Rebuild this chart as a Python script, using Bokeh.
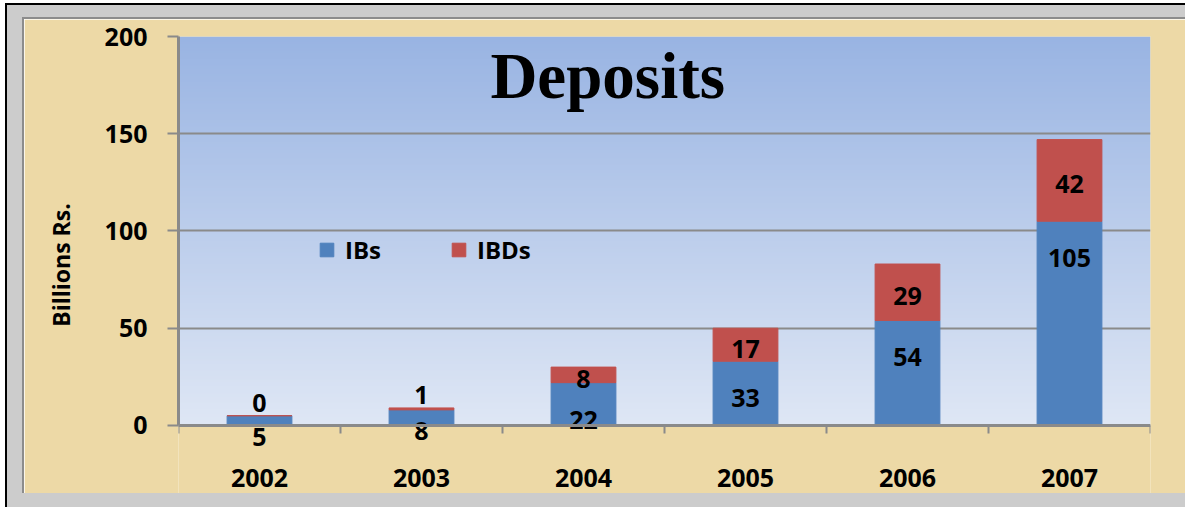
import numpy as np
from bokeh.plotting import figure
from bokeh.models import ColumnDataSource, FixedTicker, Range1d, Spacer
from bokeh.layouts import column, row
from bokeh.core.properties import value
from bokeh.embed import file_html
from bokeh.resources import INLINE

# ---- data ----
years = ["2002", "2003", "2004", "2005", "2006", "2007"]
ibs = [5, 8, 22, 33, 54, 105]
ibds = [0, 1, 8, 17, 29, 42]
series_names = ["IBs", "IBDs"]
y_ticks = [0, 50, 100, 150, 200]

BLUE = "#4F81BD"
RED = "#C0504D"
GRID = "#8a8a8a"
TAN = "#EDD9A6"
FONT = "Open Sans"

PX_PER_UNIT = 389 / 200.0
Y_MIN = -35  # frame extends below the axis so that labels under it are drawn

xs = [i + 0.5 for i in range(len(years))]
src = ColumnDataSource(dict(x=xs, IBs=ibs, IBDs=ibds))

p = figure(width=1161, height=474, output_backend="svg", toolbar_location=None,
           x_range=Range1d(0, len(years)), y_range=Range1d(Y_MIN, 200),
           min_border_left=154, min_border_right=35, min_border_top=17, min_border_bottom=0)
p.styles = {"outline": "2px solid #8c8c8c"}
p.border_fill_color = TAN
p.background_fill_color = TAN
p.outline_line_color = None

# gradient plot-area background (0..200)
N = 256
img = np.zeros((N, 1), dtype=np.uint32)
view = img.view(dtype=np.uint8).reshape((N, 1, 4))
bottom = np.array([223, 231, 245], dtype=float)
top = np.array([153, 180, 227], dtype=float)
for i in range(N):
    t = i / (N - 1)
    c = bottom + (top - bottom) * t
    view[i, 0, 0:3] = c.astype(np.uint8)
    view[i, 0, 3] = 255
p.image_rgba(image=[img], x=0, y=0, dw=len(years), dh=200, level="image")

p.vbar_stack(series_names, x="x", width=0.4, source=src, color=[BLUE, RED],
             legend_label=series_names)

# data labels
lx, ly, lt = [], [], []
for i in range(len(years)):
    down = 37 if ibs[i] > 15 else 21
    lx.append(xs[i]); ly.append(ibs[i] - down / PX_PER_UNIT); lt.append(str(ibs[i]))
    if ibds[i] >= 3:
        yv = ibs[i] + ibds[i] / 2 - 4 / PX_PER_UNIT
    else:
        yv = ibs[i] + ibds[i] + 13 / PX_PER_UNIT
    lx.append(xs[i]); ly.append(yv); lt.append(str(ibds[i]))
lab = ColumnDataSource(dict(x=lx, y=ly, t=lt))
p.text(x="x", y="y", text="t", source=lab, text_font=value(FONT), text_font_style="bold",
       text_font_size="25px", text_align="center", text_baseline="middle", text_color="black")

# title
p.text(x=[2.65], y=[179.8], text=["Deposits"], text_font=value("Liberation Serif"),
       text_font_style="bold", text_font_size="65px", text_align="center",
       text_baseline="middle", text_color="black")

# axes
xa = p.xaxis[0]
xa.fixed_location = 0
xa.ticker = FixedTicker(ticks=xs, minor_ticks=list(range(len(years) + 1)))
xa.major_label_overrides = {x: y for x, y in zip(xs, years)}
xa.major_tick_out = 0
xa.major_tick_in = 0
xa.minor_tick_out = 8
xa.minor_tick_in = 0
xa.minor_tick_line_color = GRID
xa.minor_tick_line_width = 2
xa.axis_line_color = GRID
xa.axis_line_width = 3
xa.major_label_standoff = 36
xa.major_label_text_font = FONT
xa.major_label_text_font_style = "bold"
xa.major_label_text_font_size = "25px"
xa.major_label_text_color = "black"

ya = p.yaxis[0]
ya.bounds = (0, 200)
ya.ticker = FixedTicker(ticks=y_ticks)
ya.major_tick_out = 11
ya.major_tick_in = 0
ya.minor_tick_out = 0
ya.minor_tick_in = 0
ya.major_tick_line_color = GRID
ya.major_tick_line_width = 2
ya.axis_line_color = GRID
ya.axis_line_width = 3
ya.major_label_standoff = 20
ya.major_label_text_font = FONT
ya.major_label_text_font_style = "bold"
ya.major_label_text_font_size = "25px"
ya.major_label_text_color = "black"
ya.axis_label = "Billions Rs."
ya.axis_label_text_font = FONT
ya.axis_label_text_font_style = "bold"
ya.axis_label_text_font_size = "23px"
ya.axis_label_text_color = "black"
ya.axis_label_standoff = 25

p.xgrid.grid_line_color = None
p.ygrid.ticker = FixedTicker(ticks=y_ticks)
p.ygrid.grid_line_color = GRID
p.ygrid.grid_line_width = 2

lg = p.legend[0]
lg.location = (140, 227)
lg.orientation = "horizontal"
lg.glyph_width = 17
lg.glyph_height = 17
lg.label_standoff = 10
lg.spacing = 69
lg.padding = 0
lg.margin = 0
lg.border_line_color = None
lg.background_fill_alpha = 0
lg.label_text_font = FONT
lg.label_text_font_style = "bold"
lg.label_text_font_size = "24px"
lg.label_text_color = "black"
lg.label_height = 20

GRAY = {"background-color": "#cccccc"}
BLACK = {"background-color": "#000000"}

gray_panel = column(Spacer(width=1178, height=14, styles=GRAY),
                    row(Spacer(width=17, height=474, styles=GRAY), p),
                    Spacer(width=1178, height=14, styles=GRAY))
framed = column(Spacer(width=1180, height=2, styles=BLACK),
                row(Spacer(width=2, height=502, styles=BLACK), gray_panel))
layout = column(Spacer(width=1185, height=3),
                row(Spacer(width=5, height=504), framed))

open("out.html", "w").write(file_html(layout, INLINE))
